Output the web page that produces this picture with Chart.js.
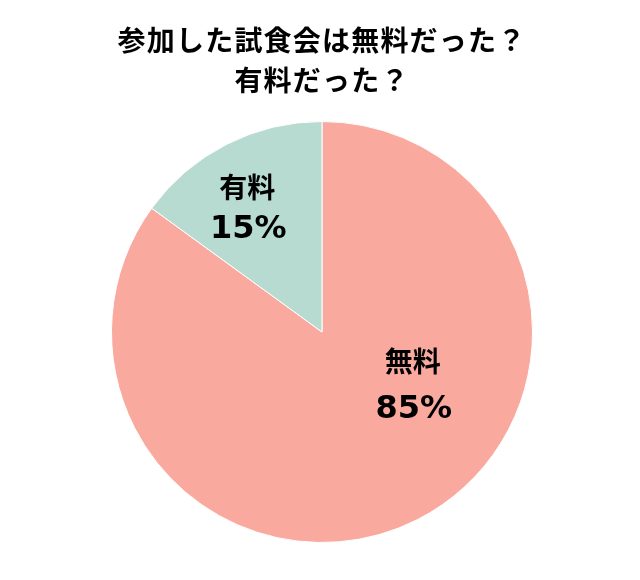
<!DOCTYPE html>
<html><head><meta charset="utf-8">
<script src="https://cdn.jsdelivr.net/npm/chart.js@4"></script>
<style>html,body{margin:0;padding:0;background:#fff;}canvas{display:block;}</style>
</head><body>
<canvas id="c" width="640" height="580"></canvas>
<script>
const categories = ["無料", "有料"];
const values = [85, 15];
const colors = ["#F9A99E", "#B7DBD1"];
const titleLines = ["参加した試食会は無料だった？", "有料だった？"];
const labelFraction = [0.497, 0.692];
const labelAngleOffset = [-33.3, -3.9];
const labelGap = [45, 38.5];

const spacingPlugin = {
  id: 'titleSpacing',
  beforeDraw(chart) { chart.ctx.letterSpacing = '1.2px'; },
  beforeDatasetsDraw(chart) { chart.ctx.letterSpacing = '0px'; }
};

const labelPlugin = {
  id: 'sliceLabels',
  afterDatasetsDraw(chart) {
    const ctx = chart.ctx;
    const meta = chart.getDatasetMeta(0);
    meta.data.forEach((arc, i) => {
      const p = arc.getProps(['x','y','startAngle','endAngle','outerRadius'], true);
      const a = (p.startAngle + p.endAngle) / 2 + labelAngleOffset[i] * Math.PI / 180;
      const r = p.outerRadius * labelFraction[i];
      const x = p.x + Math.cos(a) * r;
      const y = p.y + Math.sin(a) * r;
      ctx.save();
      ctx.fillStyle = '#000';
      ctx.textAlign = 'center';
      ctx.textBaseline = 'alphabetic';
      ctx.font = 'bold 28px "Noto Sans CJK JP"';
      ctx.fillText(categories[i], x, y - labelGap[i] / 2 + 10.5);
      ctx.font = 'bold 32px "DejaVu Sans"';
      ctx.fillText(values[i] + '%', x + 1, y + labelGap[i] / 2 + 11.6);
      ctx.restore();
    });
  }
};

new Chart(document.getElementById('c'), {
  type: 'pie',
  data: {
    labels: categories,
    datasets: [{ data: values, backgroundColor: colors, borderColor: '#ffffff', borderWidth: 1 }]
  },
  options: {
    responsive: false,
    animation: false,
    layout: { padding: { left: 4, right: 0, top: 0, bottom: 37 } },
    plugins: {
      legend: { display: false },
      tooltip: { enabled: false },
      title: {
        display: true,
        text: titleLines,
        color: '#000',
        font: { family: '"Noto Sans CJK JP"', size: 28, weight: 'bold', lineHeight: 40 / 28 },
        padding: { top: 20, bottom: 21 }
      }
    }
  },
  plugins: [spacingPlugin, labelPlugin]
});
</script>
</body></html>
